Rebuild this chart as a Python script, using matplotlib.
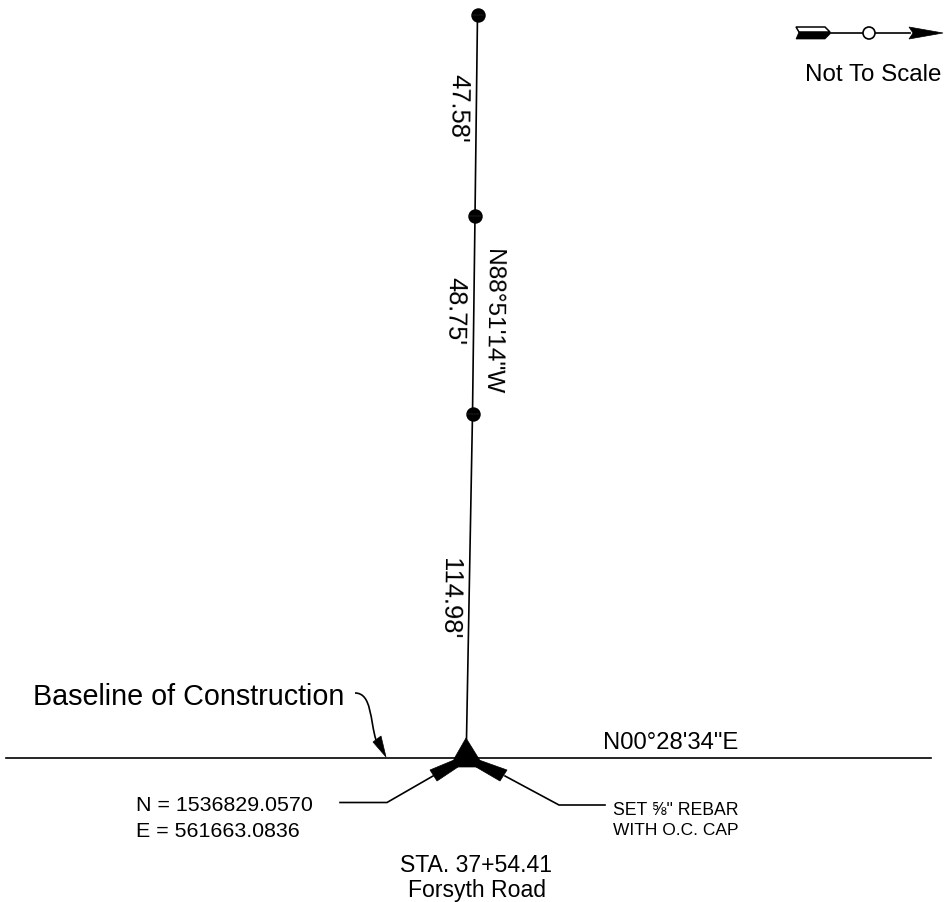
import matplotlib
matplotlib.use('Agg')
import matplotlib.pyplot as plt
from matplotlib.patches import Polygon, PathPatch, Circle
from matplotlib.path import Path

# everything in pixels, y pointing down
tie_x = [477.5, 475, 472.5, 466.5]
tie_y = [15.5, 217, 415, 740]
dot_x = tie_x[:3]
dot_y = tie_y[:3]

baseline_x = [6, 931]
baseline_y = [758.5, 758.5]

triangle = [(466, 739), (479, 760), (483, 768), (453, 768), (454, 760)]
left_head = [(430, 771), (437, 782), (458, 768), (454, 761)]
right_head = [(507, 771), (500, 782), (476, 768), (479, 761)]
left_leader_x = [433, 387, 340]
left_leader_y = [777, 803.5, 803.5]
right_leader_x = [505, 559, 605]
right_leader_y = [777, 806, 806]

curve_pts = [(355, 694), (372, 694), (370, 722), (376, 741)]
curve_head = [(386, 758), (373, 743), (381, 737)]

north_x = [830, 910]
north_y = [34, 34]
north_circle = (869, 34)
fletch_top = [(796, 28), (825, 28), (830, 33), (799, 33)]
fletch_bottom = [(799, 33), (830, 33), (830, 35), (825, 40), (796, 40)]
north_tip = [(943, 34), (909, 28), (913, 34), (909, 40)]

labels = [
    ("47.58'", 458, 108, -90.8, 18.4),
    ("48.75'", 455, 311, -90.8, 18.2),
    ("114.98'", 449, 599, -90.8, 18.4),
    ('N88°51\'14"W', 492, 322, -90.8, 17.6),
    ('N00°28\'34"E', 671, 743, 0, 17.2),
    ("Baseline of Construction", 189, 697, 0, 20.7),
    ("Not To Scale", 873, 75, 0, 17.4),
    ("STA. 37+54.41", 476, 866, 0, 16.6),
    ("Forsyth Road", 477, 891, 0, 16.6),
]
left_labels = [
    ("N = 1536829.0570", 136, 806, 15.4),
    ("E = 561663.0836", 136, 832, 15.4),
    ('SET ⅝" REBAR', 613, 811, 12.7),
    ("WITH O.C. CAP", 613, 831, 12.5),
]

plt.rcParams['font.family'] = ['Liberation Sans', 'DejaVu Sans']

fig = plt.figure(figsize=(9.46, 9.03), dpi=100)
ax = fig.add_axes([0, 0, 1, 1])
ax.set_xlim(0, 946)
ax.set_ylim(903, 0)
ax.axis('off')

line_style = dict(color='black', lw=1.2, solid_joinstyle='miter')
ax.plot(tie_x, tie_y, **line_style)
ax.plot(baseline_x, baseline_y, **line_style)
ax.plot(left_leader_x, left_leader_y, **line_style)
ax.plot(right_leader_x, right_leader_y, **line_style)
ax.plot(north_x, north_y, **line_style)

# monuments along the tie line, each with the faint hairline across it
ax.plot(dot_x, dot_y, 'o', color='black', ms=10.4, mew=0)
ax.plot(dot_x, dot_y, '_', color='#3a3a3a', ms=8, mew=0.35)

for pts in [triangle, left_head, right_head, curve_head, fletch_bottom, north_tip]:
    ax.add_patch(Polygon(pts, closed=True, fc='black', ec='black', lw=0.5))
ax.add_patch(Polygon(fletch_top, closed=True, fc='white', ec='black', lw=1.1))

codes = [Path.MOVETO, Path.CURVE4, Path.CURVE4, Path.CURVE4]
ax.add_patch(PathPatch(Path(curve_pts, codes), fc='none', ec='black', lw=1.2))

ax.add_patch(Circle(north_circle, 6, fc='white', ec='black', lw=1.2, zorder=3))

for text, x, y, rot, size in labels:
    ax.text(x, y, text, rotation=rot, fontsize=size, ha='center', va='center',
            rotation_mode='anchor', color='black')
for text, x, y, size in left_labels:
    ax.text(x, y, text, fontsize=size, ha='left', va='center', color='black')

fig.savefig('out.png', dpi=100, facecolor='white')
